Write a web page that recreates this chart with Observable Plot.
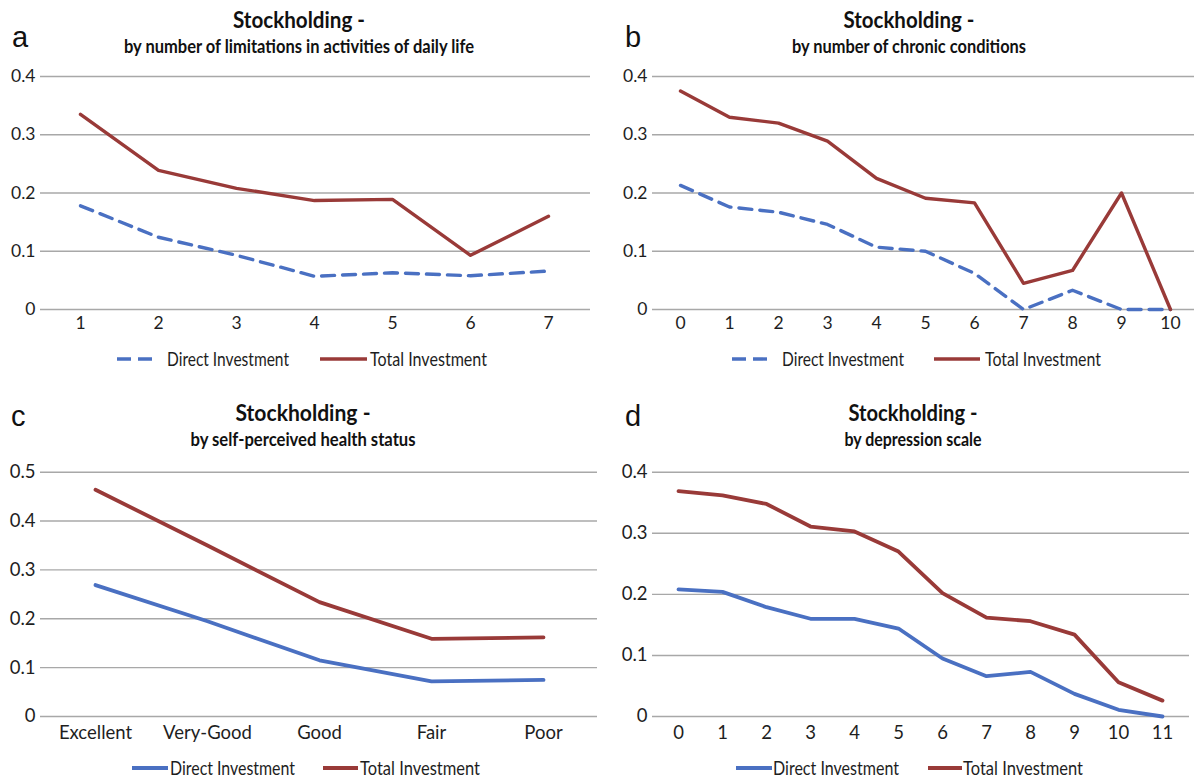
<!DOCTYPE html>
<html><head><meta charset="utf-8">
<script src="https://cdn.jsdelivr.net/npm/d3@7"></script>
<script src="https://cdn.jsdelivr.net/npm/@observablehq/plot@0.6"></script>
<style>
body{margin:0;background:#fff;}
#root{position:relative;width:1194px;height:782px;overflow:hidden;background:#fff;}
</style></head><body><div id="root"></div>
<script>
// ---- data ----
const catsA = ["1","2","3","4","5","6","7"];
const directA = [0.178, 0.124, 0.093, 0.057, 0.063, 0.058, 0.066];
const totalA  = [0.335, 0.239, 0.208, 0.187, 0.189, 0.093, 0.160];

const catsB = ["0","1","2","3","4","5","6","7","8","9","10"];
const directB = [0.213, 0.176, 0.167, 0.146, 0.107, 0.100, 0.062, 0.000, 0.033, 0.000, 0.000];
const totalB  = [0.375, 0.330, 0.320, 0.289, 0.225, 0.191, 0.183, 0.045, 0.067, 0.200, 0.000];

const catsC = ["Excellent","Very-Good","Good","Fair","Poor"];
const directC = [0.269, 0.195, 0.115, 0.072, 0.075];
const totalC  = [0.464, 0.350, 0.234, 0.159, 0.162];

const catsD = ["0","1","2","3","4","5","6","7","8","9","10","11"];
const directD = [0.208, 0.204, 0.179, 0.160, 0.160, 0.144, 0.095, 0.066, 0.073, 0.037, 0.011, 0.000];
const totalD  = [0.369, 0.362, 0.348, 0.311, 0.303, 0.270, 0.202, 0.162, 0.156, 0.134, 0.056, 0.026];

const seriesNames = ["Direct Investment", "Total Investment"];
const titles = ["Stockholding -","Stockholding -","Stockholding -","Stockholding -"];
const subtitles = ["by number of limitations in activities of daily life","by number of chronic conditions","by self-perceived health status","by depression scale"];
const letters = ["a","b","c","d"];

// ---- styling ----
const FONT = "Lato, 'Liberation Sans', sans-serif";
const RED = "#993a38", BLUE = "#4a70c2", GRID = "#a8a8a8", INK = "#1e1e1e";
const root = document.getElementById("root");

function panel(o){
  const yTicks = d3.range(0, o.yMax + 1e-9, 0.1).map(v => +v.toFixed(1));
  const dRows = o.cats.map((c,i)=>({cat:c, v:o.direct[i]}));
  const tRows = o.cats.map((c,i)=>({cat:c, v:o.total[i]}));
  const p = Plot.plot({
    width:o.width, height:o.height,
    marginTop:o.mt, marginBottom:o.mb, marginLeft:o.ml, marginRight:o.mr,
    style:{fontFamily:FONT, fontSize:o.fs+"px", color:INK, background:"transparent", overflow:"visible"},
    x:{type:"point", domain:o.cats, range:o.xr, padding:0},
    y:{domain:[0,o.yMax]},
    marks:[
      Plot.ruleY(yTicks, {stroke:GRID, strokeWidth:1.4}),
      Plot.axisY({ticks:yTicks, tickSize:0, tickPadding:5, label:null, fontSize:o.fs,
                  tickFormat:d => d === 0 ? "0" : d.toFixed(1)}),
      Plot.axisX({tickSize:0, tickPadding:o.tp, label:null, fontSize:o.fs}),
      Plot.line(dRows, {x:"cat", y:"v", stroke:BLUE, strokeWidth:o.sw,
                        strokeDasharray:o.dashed ? "13,8" : null, strokeLinejoin:"round"}),
      Plot.line(tRows, {x:"cat", y:"v", stroke:RED, strokeWidth:o.sw, strokeLinejoin:"round"})
    ]
  });
  p.style.position = "absolute";
  p.style.left = o.left + "px";
  p.style.top = o.top + "px";
  root.appendChild(p);
}

panel({cats:catsA, direct:directA, total:totalA, yMax:0.4, left:0, top:0, width:597, height:340,
       mt:76, mb:31, ml:40, mr:7, xr:[78,550], fs:17.5, tp:7, sw:3.4, dashed:true});
panel({cats:catsB, direct:directB, total:totalB, yMax:0.4, left:597, top:0, width:597, height:340,
       mt:76, mb:31, ml:55, mr:0, xr:[79,577], fs:17.5, tp:7, sw:3.4, dashed:true});
panel({cats:catsC, direct:directC, total:totalC, yMax:0.5, left:0, top:400, width:597, height:360,
       mt:71.7, mb:44, ml:40, mr:0, xr:[95,543.6], fs:18.5, tp:9, sw:3.8, dashed:false});
panel({cats:catsD, direct:directD, total:totalD, yMax:0.4, left:597, top:400, width:597, height:360,
       mt:71.7, mb:44, ml:55, mr:5, xr:[76,569], fs:18.5, tp:9, sw:3.8, dashed:false});

// ---- titles, letters, legends (overlay) ----
const ov = d3.select(root).append("svg")
  .attr("width",1194).attr("height",782)
  .style("position","absolute").style("left","0px").style("top","0px")
  .style("pointer-events","none").style("font-family",FONT);

const head = [
  {cx:299, tb:28, sb:53, tw:132, sw:350, lx:12, lb:47},
  {cx:909, tb:28, sb:53, tw:131, sw:234, lx:625, lb:47},
  {cx:303, tb:421, sb:446, tw:135, sw:225, lx:11, lb:426},
  {cx:913, tb:421, sb:446, tw:129, sw:137, lx:625, lb:426}
];
head.forEach((h,i)=>{
  ov.append("text").attr("x",h.cx).attr("y",h.tb).attr("text-anchor","middle")
    .attr("font-weight","bold").attr("font-size",23).attr("fill","#111")
    .attr("textLength",h.tw).attr("lengthAdjust","spacingAndGlyphs").text(titles[i]);
  ov.append("text").attr("x",h.cx).attr("y",h.sb).attr("text-anchor","middle")
    .attr("font-weight","bold").attr("font-size",18).attr("fill","#111")
    .attr("textLength",h.sw).attr("lengthAdjust","spacingAndGlyphs").text(subtitles[i]);
  ov.append("text").attr("x",h.lx).attr("y",h.lb).attr("font-size",29)
    .attr("font-family","'Liberation Sans', Arial, sans-serif").attr("fill","#111").text(letters[i]);
});

const legends = [
  {y:359, d:[117,154], dt:167, dw:122, t:[320,367], tt:370, tw:117, dashed:true},
  {y:359, d:[732,768], dt:782, dw:122, t:[934,980], tt:985, tw:116, dashed:true},
  {y:768, d:[132,168], dt:170, dw:125, t:[323,358], tt:360, tw:120, dashed:false},
  {y:768, d:[736,772], dt:773, dw:126, t:[928,962], tt:963, tw:120, dashed:false}
];
legends.forEach(l=>{
  ov.append("line").attr("x1",l.d[0]).attr("x2",l.d[1]).attr("y1",l.y).attr("y2",l.y)
    .attr("stroke",BLUE).attr("stroke-width",l.dashed?3.4:3.8)
    .attr("stroke-dasharray",l.dashed?"14,7":null);
  ov.append("text").attr("x",l.dt).attr("y",l.y+6.5).attr("font-size",19).attr("fill",INK)
    .attr("textLength",l.dw).attr("lengthAdjust","spacingAndGlyphs").text(seriesNames[0]);
  ov.append("line").attr("x1",l.t[0]).attr("x2",l.t[1]).attr("y1",l.y).attr("y2",l.y)
    .attr("stroke",RED).attr("stroke-width",l.dashed?3.4:3.8);
  ov.append("text").attr("x",l.tt).attr("y",l.y+6.5).attr("font-size",19).attr("fill",INK)
    .attr("textLength",l.tw).attr("lengthAdjust","spacingAndGlyphs").text(seriesNames[1]);
});
</script></body></html>
